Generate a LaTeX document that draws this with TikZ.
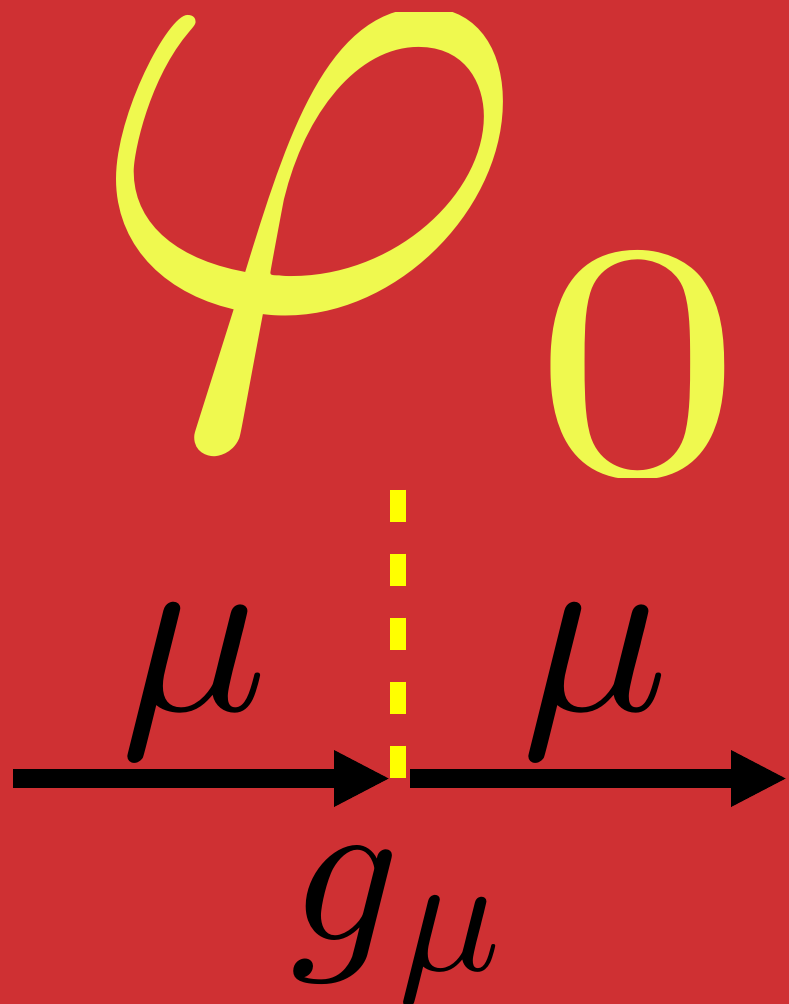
\documentclass[tikz,border=0pt]{standalone}
\usepackage{amsmath}
\usetikzlibrary{arrows.meta,positioning}
\definecolor{bgred}{HTML}{CF3033}
\definecolor{phiyellow}{HTML}{EFF94F}
\definecolor{dashyellow}{HTML}{FFFF00}
\begin{document}
\begin{tikzpicture}[x=1pt,y=-1pt,
  arr/.style={-{Triangle[length=56pt,width=52.5pt]},line width=19pt,black},
  scalar/.style={line width=16pt,dashyellow,dash pattern=on 32pt off 32pt},
  label/.style={inner sep=0pt,text=black}]

\fill[bgred] (0,0) rectangle (789,1004);
\useasboundingbox (0,0) rectangle (789,1004);

\begin{scope}
\clip (0,12) rectangle (789,477);
\node[inner sep=0pt,text=phiyellow,scale=68] (phi) at (305,228) {$\varphi$};
\node[inner sep=0pt,text=phiyellow,xscale=53.5,yscale=48] (zero) at (638.5,365) {$\scriptstyle 0$};
\end{scope}

\coordinate (a) at (13,778.5);
\coordinate (v) at (390,778.5);
\coordinate (b) at (410,778.5);
\coordinate (c) at (787,778.5);
\coordinate (top) at (398,489.5);
\coordinate (bot) at (398,777.5);

\draw[arr] (a)--(v);
\draw[arr] (b)--(c);
\draw[scalar] (top)--(bot);

\node[label,scale=24.5] (mu1) at (194,682) {$\mu$};
\node[label,scale=24.5] (mu2) at (595,682) {$\mu$};
\node[label,scale=21.5] (g) at (346,915) {$g$};
\node[label,scale=17] (gmu) at (450,950) {$\mu$};
\end{tikzpicture}
\end{document}
